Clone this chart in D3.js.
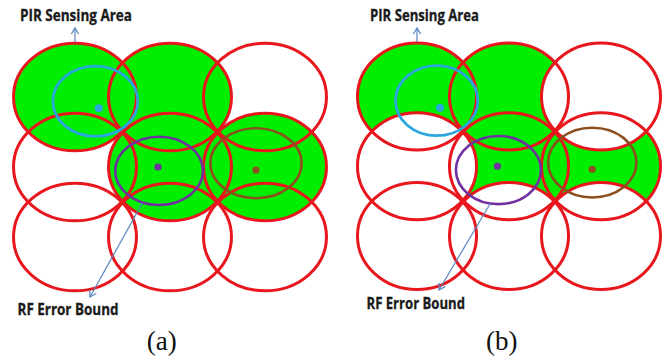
<!DOCTYPE html>
<html><head><meta charset="utf-8">
<script src="https://cdn.jsdelivr.net/npm/d3@7"></script>
<style>
html,body{margin:0;padding:0;background:#fff;}
svg{display:block;}
</style>
</head><body>
<svg id="fig" width="669" height="356"></svg>
<script>
// ---- Sensor field: a 3 x 3 grid of PIR sensors (grid units) ----
const gridCols = [0, 1, 2];
const gridRows = [0, 1, 2];
// sensors whose PIR area reports the target: [col, row]
const firedSensors = [[0, 0], [1, 0], [1, 1], [2, 1]];
// PIR sensing range in grid units: [horizontal, vertical]
const sensingRange = [0.647, 0.768];

// ---- RF localisation of the three targets (grid units) ----
const targetIds = ["t1", "t2", "t3"];
const boundCx = [0.214, 0.885, 1.905];
const boundCy = [0.060, 1.055, 0.947];
const boundRx = [0.447, 0.462, 0.480];
const boundRy = [0.502, 0.488, 0.500];
const estimateX = [0.250, 0.874, 1.905];
const estimateY = [0.160, 1.000, 1.043];

// ---- Text ----
const panelCaptions = ["(a)", "(b)"];
const pirLabel = "PIR Sensing Area";
const rfLabel = "RF Error Bound";

// ---- Styling ----
const GREEN = "#00ef00";
const RED = "#e8161d";
const ARROW = "#5a86c0";
const targetColors = ["#2aa6de", "#7030a0", "#8c4f1f"];
const targetStroke = [2.8, 2.6, 2.6];
const targetDot = [4, 3.6, 3.6];

// Panel layout: pixel anchors for grid column/row 0 and 2
const panels = [
  { id: "a", x: [75, 265], y: [97, 237], exclusive: false,
    pir: { x: 20, y: 21, w: 112, tipY: 28 },
    rf: { x: 17.5, y: 314.5, w: 101, angle: 112, end: [90, 297] },
    cap: { x: 161.7, y: 349.5 } },
  { id: "b", x: [417, 601], y: [96.5, 236], exclusive: true,
    pir: { x: 370, y: 21, w: 109, tipY: 28 },
    rf: { x: 366.5, y: 309, w: 98.5, angle: 101, end: [439, 290] },
    cap: { x: 501.7, y: 349.5 } }
];

const svg = d3.select("#fig");
const defs = svg.append("defs");

// open chevron arrowhead
defs.append("marker")
  .attr("id", "chev")
  .attr("viewBox", "-8 -5 10 10")
  .attr("refX", 0).attr("refY", 0)
  .attr("markerWidth", 10).attr("markerHeight", 10)
  .attr("markerUnits", "userSpaceOnUse")
  .attr("orient", "auto")
  .append("path")
  .attr("d", "M-6,-3.6 L0,0 L-6,3.6")
  .attr("fill", "none")
  .attr("stroke", ARROW)
  .attr("stroke-width", 1.3);

const cells = [];
gridRows.forEach(r => gridCols.forEach(c => {
  cells.push({ c, r, fired: firedSensors.some(s => s[0] === c && s[1] === r) });
}));

panels.forEach((p, pi) => {
  const x = d3.scaleLinear().domain([0, 2]).range(p.x);
  const y = d3.scaleLinear().domain([0, 2]).range(p.y);
  const kx = (p.x[1] - p.x[0]) / 2;   // pixels per grid unit
  const ky = (p.y[1] - p.y[0]) / 2;
  const rx = sensingRange[0] * kx, ry = sensingRange[1] * ky;

  const g = svg.append("g").attr("class", "panel-" + p.id);

  // green covered area
  const fillG = g.append("g");
  if (p.exclusive) {
    // area seen only by the reporting sensors: subtract silent sensors
    const mask = defs.append("mask").attr("id", "silent-" + p.id)
      .attr("maskUnits", "userSpaceOnUse")
      .attr("x", 0).attr("y", 0).attr("width", 669).attr("height", 356);
    mask.append("rect").attr("width", 669).attr("height", 356).attr("fill", "#fff");
    mask.selectAll("ellipse").data(cells.filter(d => !d.fired)).join("ellipse")
      .attr("cx", d => x(d.c)).attr("cy", d => y(d.r))
      .attr("rx", rx).attr("ry", ry).attr("fill", "#000");
    fillG.attr("mask", "url(#silent-" + p.id + ")");
  }
  fillG.selectAll("ellipse").data(cells.filter(d => d.fired)).join("ellipse")
    .attr("cx", d => x(d.c)).attr("cy", d => y(d.r))
    .attr("rx", rx).attr("ry", ry)
    .attr("fill", GREEN);

  // PIR sensing boundaries
  g.append("g").selectAll("ellipse").data(cells).join("ellipse")
    .attr("cx", d => x(d.c)).attr("cy", d => y(d.r))
    .attr("rx", rx).attr("ry", ry)
    .attr("fill", "none").attr("stroke", RED).attr("stroke-width", 3);

  // RF error bounds and position estimates
  const tg = g.append("g").selectAll("g").data(targetIds).join("g");
  tg.append("ellipse")
    .attr("cx", (d, i) => x(boundCx[i])).attr("cy", (d, i) => y(boundCy[i]))
    .attr("rx", (d, i) => boundRx[i] * kx).attr("ry", (d, i) => boundRy[i] * ky)
    .attr("fill", "none")
    .attr("stroke", (d, i) => targetColors[i])
    .attr("stroke-width", (d, i) => targetStroke[i]);
  tg.append("circle")
    .attr("cx", (d, i) => x(estimateX[i])).attr("cy", (d, i) => y(estimateY[i]))
    .attr("r", (d, i) => targetDot[i])
    .attr("fill", (d, i) => targetColors[i]);

  // PIR label arrow (from top of sensor at col 0, row 0)
  g.append("line")
    .attr("x1", x(0)).attr("y1", y(0) - ry - 1)
    .attr("x2", x(0)).attr("y2", p.pir.tipY)
    .attr("stroke", ARROW).attr("stroke-width", 1.2)
    .attr("marker-end", "url(#chev)");

  // RF label arrow (from the error bound of target 2)
  const a = p.rf.angle * Math.PI / 180;
  const sx = x(boundCx[1]) + Math.cos(a) * boundRx[1] * kx;
  const sy = y(boundCy[1]) + Math.sin(a) * boundRy[1] * ky;
  g.append("line")
    .attr("x1", sx).attr("y1", sy)
    .attr("x2", p.rf.end[0]).attr("y2", p.rf.end[1])
    .attr("stroke", ARROW).attr("stroke-width", 1.2)
    .attr("marker-end", "url(#chev)");

  const lab = g.append("g")
    .attr("font-family", "'Open Sans', Lato, sans-serif")
    .attr("font-weight", "bold")
    .attr("font-size", 15.5)
    .attr("fill", "#1a1a1a")
    .attr("stroke", "#1a1a1a")
    .attr("stroke-width", 0.3);
  lab.append("text")
    .attr("x", p.pir.x).attr("y", p.pir.y)
    .attr("textLength", p.pir.w).attr("lengthAdjust", "spacingAndGlyphs")
    .text(pirLabel);
  lab.append("text")
    .attr("x", p.rf.x).attr("y", p.rf.y)
    .attr("textLength", p.rf.w).attr("lengthAdjust", "spacingAndGlyphs")
    .text(rfLabel);

  g.append("text")
    .attr("x", p.cap.x).attr("y", p.cap.y)
    .attr("text-anchor", "middle")
    .attr("font-family", "'Liberation Serif', 'Times New Roman', serif")
    .attr("font-size", 27)
    .attr("fill", "#111")
    .text(panelCaptions[pi]);
});
</script>
</body></html>
